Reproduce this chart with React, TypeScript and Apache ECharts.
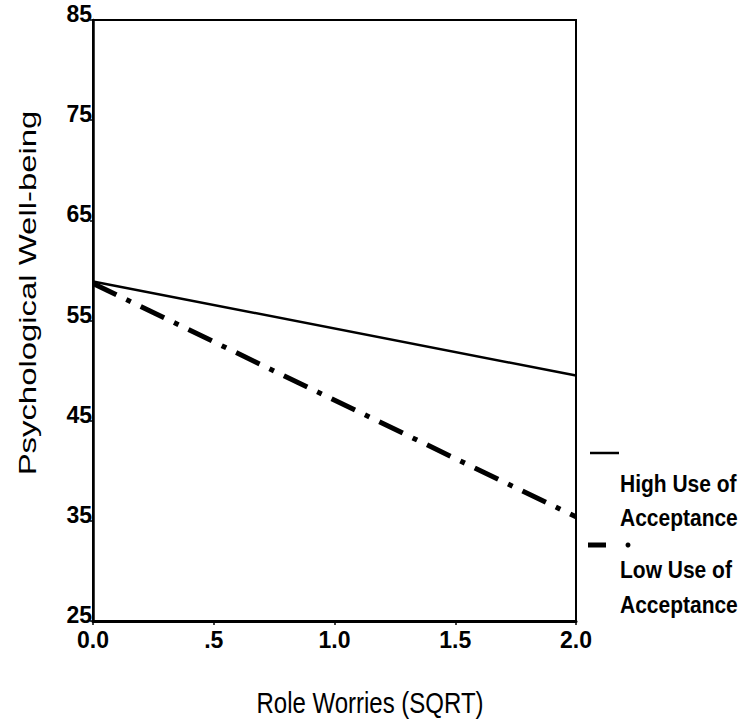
import React, { useEffect, useRef } from "react";
import * as echarts from "echarts";

const xValues = [0, 2];
const highUse = [58.9, 49.5];
const lowUse = [58.7, 35.4];
const xTickLabels: Record<string, string> = { "0": "0.0", "0.5": ".5", "1": "1.0", "1.5": "1.5", "2": "2.0" };
const yTicks = [25, 35, 45, 55, 65, 75, 85];
const legendLabels = [["High Use of", "Acceptance"], ["Low Use of", "Acceptance"]];
const xTitle = "Role Worries (SQRT)";
const yTitle = "Psychological Well-being";

export default function App() {
  const ref = useRef<HTMLDivElement>(null);
  useEffect(() => {
    if (!ref.current) return;
    const chart = echarts.init(ref.current, null, { renderer: "svg" });
    const font = "Liberation Sans, Arial, sans-serif";
    const legendText = (text: string, y: number) => ({
      type: "text", x: 620, y, scaleY: 1.15,
      style: { text, font: `bold 21px ${font}`, fill: "#000", verticalAlign: "middle" },
    });
    chart.setOption({
      animation: false,
      backgroundColor: "#fff",
      grid: { left: 93, right: 175, top: 20, bottom: 106, show: true, borderColor: "#000", borderWidth: 2, backgroundColor: "transparent" },
      xAxis: {
        type: "value",
        min: 0,
        max: 2,
        interval: 0.5,
        axisLine: { show: true, lineStyle: { color: "#000", width: 3 } },
        axisTick: { show: true, length: 4, lineStyle: { color: "#000", width: 1.5 } },
        splitLine: { show: false },
        axisLabel: {
          color: "#000",
          fontFamily: font,
          fontWeight: "bold",
          fontSize: 23,
          margin: 7,
          formatter: (v: number) => xTickLabels[String(v)] ?? String(v),
        },
      },
      yAxis: {
        type: "value",
        min: yTicks[0],
        max: yTicks[yTicks.length - 1],
        interval: 10,
        axisLine: { show: true, lineStyle: { color: "#000", width: 2.5 } },
        axisTick: { show: true, length: 3, lineStyle: { color: "#000", width: 1.5 } },
        splitLine: { show: false },
        axisLabel: {
          color: "#000", fontFamily: font, fontWeight: "bold", fontSize: 23, margin: 1,
          verticalAlign: "bottom", lineHeight: 12,
        },
      },
      series: [
        {
          type: "line",
          name: "High Use of Acceptance",
          data: xValues.map((x, i) => [x, highUse[i]]),
          symbol: "none",
          lineStyle: { color: "#000", width: 2.5, type: "solid" },
        },
        {
          type: "line",
          name: "Low Use of Acceptance",
          data: xValues.map((x, i) => [x, lowUse[i]]),
          symbol: "none",
          lineStyle: { color: "#000", width: 5, type: [26, 11, 5, 11], cap: "butt" },
        },
      ],
      graphic: [
        { type: "line", shape: { x1: 590, y1: 453, x2: 619, y2: 453 }, style: { stroke: "#000", lineWidth: 2.5 } },
        legendText(legendLabels[0][0], 484),
        legendText(legendLabels[0][1], 518),
        { type: "line", shape: { x1: 588, y1: 545, x2: 606, y2: 545 }, style: { stroke: "#000", lineWidth: 5 } },
        { type: "circle", shape: { cx: 628, cy: 545, r: 2.5 }, style: { fill: "#000" } },
        legendText(legendLabels[1][0], 570),
        legendText(legendLabels[1][1], 605),
        {
          type: "text", x: 370, y: 703, scaleY: 1.2,
          style: { text: xTitle, font: `24px ${font}`, fill: "#000", align: "center", verticalAlign: "middle" },
        },
        {
          type: "text", x: 28, y: 293, rotation: Math.PI / 2, scaleX: 1.37,
          style: { text: yTitle, font: `24px ${font}`, fill: "#000", align: "center", verticalAlign: "middle" },
        },
      ],
    });
    return () => chart.dispose();
  }, []);
  return <div ref={ref} style={{ width: 751, height: 727, position: "absolute", left: 0, top: 0 }} />;
}
